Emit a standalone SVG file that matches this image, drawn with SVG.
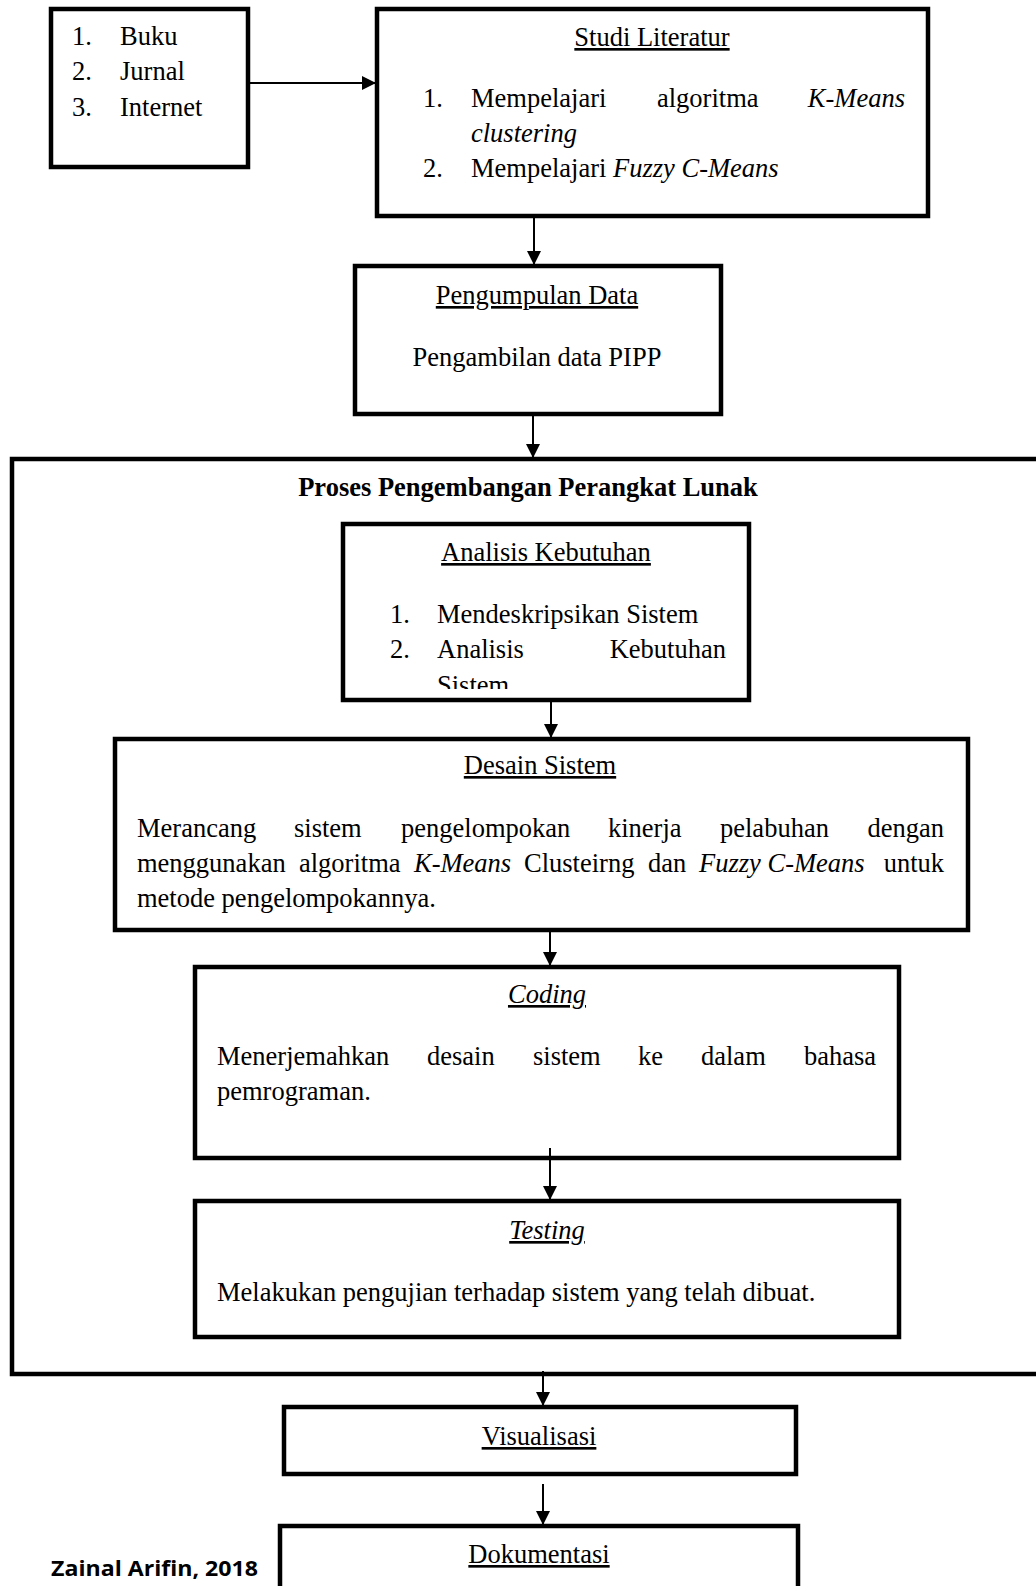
<svg xmlns="http://www.w3.org/2000/svg" width="1036" height="1586" viewBox="0 0 1036 1586">
<style>
text{font-family:"Liberation Serif","Times New Roman",serif;font-size:26.5px;fill:#000}
.b{fill:#fff;stroke:#000;stroke-width:4.5}
.t{text-anchor:middle;text-decoration:underline}
.i{font-style:italic}
.c{stroke:#000;stroke-width:2;fill:none;marker-end:url(#a)}
.f{font-family:"Open Sans","DejaVu Sans",sans-serif;font-weight:bold;font-size:22px}
</style>
<defs>
<marker id="a" markerWidth="14" markerHeight="14" refX="14" refY="7" orient="auto" markerUnits="userSpaceOnUse"><path d="M0,0L14,7L0,14z" fill="#000"/></marker>
<clipPath id="ak"><rect x="345" y="526" width="402" height="163"/></clipPath>
</defs>
<rect width="1036" height="1586" fill="#fff"/>
<g id="proses">
<rect class="b" x="12" y="459" width="1040" height="915"/>
<text x="528" y="496" text-anchor="middle" font-weight="bold">Proses Pengembangan Perangkat Lunak</text>
</g>
<g id="sumber">
<rect class="b" x="51" y="9" width="197" height="158"/>
<text x="72" y="45">1.</text><text x="120" y="45">Buku</text>
<text x="72" y="80">2.</text><text x="120" y="80">Jurnal</text>
<text x="72" y="116">3.</text><text x="120" y="116">Internet</text>
</g>
<g id="studi">
<rect class="b" x="377" y="9" width="551" height="207"/>
<text class="t" x="652" y="46">Studi Literatur</text>
<text x="423" y="107">1.</text><text x="471" y="107">Mempelajari</text><text x="657" y="107">algoritma</text><text class="i" x="905" y="107" text-anchor="end">K-Means</text>
<text class="i" x="471" y="142">clustering</text>
<text x="423" y="177">2.</text><text x="471" y="177">Mempelajari <tspan class="i">Fuzzy C-Means</tspan></text>
</g>
<g id="pengumpulan">
<rect class="b" x="355" y="266" width="366" height="148"/>
<text class="t" x="537" y="304">Pengumpulan Data</text>
<text x="537" y="366" text-anchor="middle">Pengambilan data PIPP</text>
</g>
<g id="analisis">
<rect class="b" x="343" y="524" width="406" height="176"/>
<text class="t" x="546" y="561">Analisis Kebutuhan</text>
<g clip-path="url(#ak)">
<text x="390" y="623">1.</text><text x="437" y="623">Mendeskripsikan Sistem</text>
<text x="390" y="658">2.</text><text x="437" y="658">Analisis</text><text x="726" y="658" text-anchor="end">Kebutuhan</text>
<text x="437" y="694">Sistem</text>
</g>
</g>
<g id="desain">
<rect class="b" x="115" y="739" width="853" height="191"/>
<text class="t" x="540" y="774">Desain Sistem</text>
<text y="837"><tspan x="137">Merancang</tspan><tspan x="294">sistem</tspan><tspan x="401">pengelompokan</tspan><tspan x="608">kinerja</tspan><tspan x="720">pelabuhan</tspan><tspan x="944" text-anchor="end">dengan</tspan></text>
<text y="872"><tspan x="137">menggunakan</tspan><tspan x="299">algoritma</tspan><tspan x="414" class="i">K-Means</tspan><tspan x="524">Clusteirng</tspan><tspan x="648">dan</tspan><tspan x="699" class="i">Fuzzy C-Means</tspan><tspan x="944" text-anchor="end">untuk</tspan></text>
<text x="137" y="907">metode pengelompokannya.</text>
</g>
<g id="coding">
<rect class="b" x="195" y="967" width="704" height="191"/>
<text class="t i" x="547" y="1003">Coding</text>
<text y="1065"><tspan x="217">Menerjemahkan</tspan><tspan x="427">desain</tspan><tspan x="533">sistem</tspan><tspan x="638">ke</tspan><tspan x="701">dalam</tspan><tspan x="876" text-anchor="end">bahasa</tspan></text>
<text x="217" y="1100">pemrograman.</text>
</g>
<g id="testing">
<rect class="b" x="195" y="1201" width="704" height="136"/>
<text class="t i" x="547" y="1239">Testing</text>
<text x="217" y="1301">Melakukan pengujian terhadap sistem yang telah dibuat.</text>
</g>
<g id="visualisasi">
<rect class="b" x="284" y="1407" width="512" height="67"/>
<text class="t" x="539" y="1445">Visualisasi</text>
</g>
<g id="dokumentasi">
<rect class="b" x="280" y="1526" width="518" height="80"/>
<text class="t" x="539" y="1563">Dokumentasi</text>
</g>
<text class="f" x="51" y="1576" textLength="207" lengthAdjust="spacingAndGlyphs">Zainal Arifin, 2018</text>
<g id="connectors">
<path class="c" d="M248,83H376"/>
<path class="c" d="M534,216V265"/>
<path class="c" d="M533,414V458"/>
<path class="c" d="M551,700V738"/>
<path class="c" d="M550,930V966"/>
<path class="c" d="M550,1148V1200"/>
<path class="c" d="M543,1371V1406"/>
<path class="c" d="M543,1484V1525"/>
</g>
</svg>
